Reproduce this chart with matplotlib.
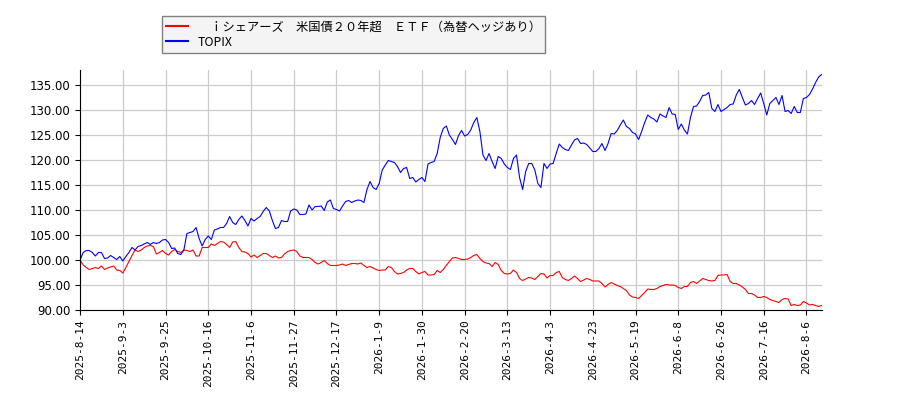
import numpy as np
import matplotlib
matplotlib.use('Agg')
import matplotlib.pyplot as plt

plt.rcParams['font.family'] = ['Noto Sans CJK JP', 'DejaVu Sans']

# labels for every 14th trading day
tick_labels = ['2025-8-14', '2025-9-3', '2025-9-25', '2025-10-16', '2025-11-6',
               '2025-11-27', '2025-12-17', '2026-1-9', '2026-1-30', '2026-2-20',
               '2026-3-13', '2026-4-3', '2026-4-23', '2026-5-19', '2026-6-8',
               '2026-6-26', '2026-7-16', '2026-8-6']

etf_name = '\u3000ｉシェアーズ\u3000米国債２０年超\u3000ＥＴＦ（為替ヘッジあり）'

# values (100 = start)
etf = [100.0, 99.0, 98.5, 98.1, 98.3, 98.5, 98.3, 98.8, 98.1, 98.4,
       98.6, 98.8, 98.0, 97.9, 97.4, 98.5, 99.7, 100.9, 102.0, 101.7,
       102.0, 102.5, 102.8, 102.9, 102.7, 101.2, 101.5, 101.9, 101.3, 101.0,
       101.7, 102.1, 101.7, 101.5, 102.0, 101.9, 101.7, 102.0, 100.8, 100.8,
       102.5, 102.5, 102.5, 103.2, 102.9, 103.3, 103.7, 103.6, 103.1, 102.5,
       103.6, 103.7, 102.5, 101.7, 101.6, 101.3, 100.6, 101.0, 100.5, 100.9,
       101.3, 101.3, 100.9, 100.5, 100.8, 100.4, 100.5, 101.2, 101.7, 101.9,
       102.0, 101.7, 100.8, 100.5, 100.5, 100.5, 100.1, 99.5, 99.2, 99.5,
       99.9, 99.3, 98.9, 98.9, 98.9, 99.0, 99.2, 98.9, 99.1, 99.3,
       99.3, 99.2, 99.4, 98.9, 98.5, 98.7, 98.4, 98.1, 97.9, 98.0,
       98.0, 98.7, 98.5, 97.7, 97.2, 97.3, 97.5, 98.0, 98.3, 98.3,
       97.7, 97.2, 97.5, 97.7, 97.0, 97.0, 97.1, 97.9, 97.5, 98.1,
       98.9, 99.7, 100.4, 100.5, 100.3, 100.1, 100.1, 100.2, 100.5, 100.9,
       101.1, 100.3, 99.7, 99.4, 99.3, 98.7, 99.5, 99.1, 97.9, 97.3,
       97.2, 97.3, 98.0, 97.5, 96.3, 95.9, 96.2, 96.5, 96.4, 96.1,
       96.7, 97.3, 97.2, 96.4, 96.9, 96.9, 97.5, 97.7, 96.5, 96.1,
       95.9, 96.3, 96.8, 96.3, 95.7, 96.0, 96.3, 96.1, 95.8, 95.8,
       95.8, 95.3, 94.6, 95.1, 95.5, 95.2, 94.9, 94.7, 94.3, 93.9,
       93.0, 92.6, 92.5, 92.3, 92.9, 93.5, 94.2, 94.1, 94.1, 94.3,
       94.7, 94.9, 95.1, 95.0, 95.0, 94.9, 94.5, 94.3, 94.7, 94.7,
       95.5, 95.7, 95.3, 95.8, 96.3, 96.1, 95.9, 95.8, 95.9, 96.9,
       97.0, 97.0, 97.1, 95.7, 95.3, 95.3, 95.0, 94.6, 94.1, 93.3,
       93.3, 93.0, 92.5, 92.5, 92.7, 92.5, 92.1, 91.9, 91.7, 91.5,
       92.1, 92.3, 92.2, 90.9, 91.1, 90.9, 91.0, 91.7, 91.4, 91.0,
       91.1, 90.9, 90.7, 90.9]

topix = [100.0, 101.5, 101.9, 101.9, 101.5, 100.8, 101.5, 101.5, 100.3, 100.4,
         100.9, 100.5, 100.1, 100.7, 99.8, 100.7, 101.5, 102.5, 102.0, 102.7,
         102.9, 103.2, 103.5, 103.1, 103.5, 103.3, 103.5, 104.0, 104.1, 103.5,
         102.3, 102.4, 101.3, 101.1, 102.0, 105.3, 105.5, 105.7, 106.5, 104.3,
         102.8, 104.1, 104.8, 104.1, 106.0, 106.2, 106.5, 106.5, 107.3, 108.7,
         107.5, 107.1, 108.1, 108.8, 107.9, 106.8, 108.3, 107.8, 108.3, 108.7,
         109.7, 110.5, 109.8, 107.9, 106.3, 106.5, 107.9, 107.7, 107.7, 109.8,
         110.2, 110.0, 109.1, 109.1, 109.2, 111.0, 110.0, 110.7, 110.7, 110.8,
         109.9, 111.6, 112.0, 110.3, 110.1, 109.8, 110.8, 111.7, 111.9, 111.5,
         111.8, 112.0, 111.9, 111.5, 114.1, 115.7, 114.5, 114.1, 115.3, 118.0,
         119.0, 119.9, 119.7, 119.5, 118.7, 117.5, 118.3, 118.5, 116.3, 116.5,
         115.6, 116.1, 116.5, 115.7, 119.2, 119.5, 119.7, 121.3, 124.5, 126.3,
         126.8, 125.0, 124.1, 123.1, 124.9, 125.9, 124.8, 125.1, 126.0, 127.5,
         128.5, 125.7, 121.0, 119.9, 121.3, 119.7, 118.3, 120.7, 120.3, 119.2,
         118.5, 118.1, 120.3, 121.0, 116.5, 114.1, 117.7, 119.3, 119.3, 118.0,
         115.3, 114.5, 119.3, 118.3, 119.2, 119.3, 121.3, 123.2, 122.5, 122.1,
         121.9, 123.0, 124.0, 124.3, 123.3, 123.4, 123.1, 122.4, 121.7, 121.7,
         122.3, 123.3, 121.9, 123.3, 125.3, 125.2, 125.9, 127.0, 128.0, 126.7,
         126.3, 125.5, 125.2, 124.1, 125.7, 127.5, 129.0, 128.5, 128.2, 127.6,
         129.2, 128.8, 128.5, 130.5, 129.2, 129.1, 126.1, 127.2, 126.0, 125.2,
         128.5, 130.7, 130.8, 131.7, 132.9, 133.0, 133.5, 130.3, 129.7, 131.1,
         129.7, 130.1, 130.5, 131.1, 131.2, 133.0, 134.1, 132.5, 131.0, 131.3,
         131.9, 131.1, 132.3, 133.4, 131.3, 129.0, 131.3, 131.9, 132.5, 131.1,
         132.9, 129.7, 129.9, 129.3, 130.7, 129.5, 129.5, 132.3, 132.5, 133.1,
         134.2, 135.5, 136.6, 137.1]

x = np.arange(len(topix))

fig = plt.figure(figsize=(9, 4), dpi=100)
ax = fig.add_axes([0.089, 0.225, 0.824, 0.6])

ax.plot(x, etf, color='red', linewidth=0.8, label=etf_name)
ax.plot(x, topix, color='blue', linewidth=0.8, label='TOPIX')

ax.set_xlim(0, len(topix) - 1)
ax.set_ylim(90, 138)
ax.set_yticks(np.arange(90, 136, 5))
ax.set_yticklabels(['%.2f' % v for v in np.arange(90, 136, 5)], family='DejaVu Sans', fontsize=8.5)
ax.set_xticks(np.arange(0, len(topix), 14))
ax.set_xticklabels(tick_labels, rotation=90, family='DejaVu Sans Mono', fontsize=8)

ax.grid(True, color='#cccccc', linewidth=0.9)
ax.set_axisbelow(True)
ax.spines['top'].set_visible(False)
ax.spines['right'].set_visible(False)

leg = fig.legend(loc='upper left', bbox_to_anchor=(0.18, 0.96), fontsize=8.8,
                 facecolor='#f4f4f4', edgecolor='#808080', fancybox=False,
                 framealpha=1, borderaxespad=0, handlelength=1.8,
                 borderpad=0.35, labelspacing=0.2)
for line in leg.get_lines():
    line.set_linewidth(1.5)

fig.savefig('out.png', dpi=100)
